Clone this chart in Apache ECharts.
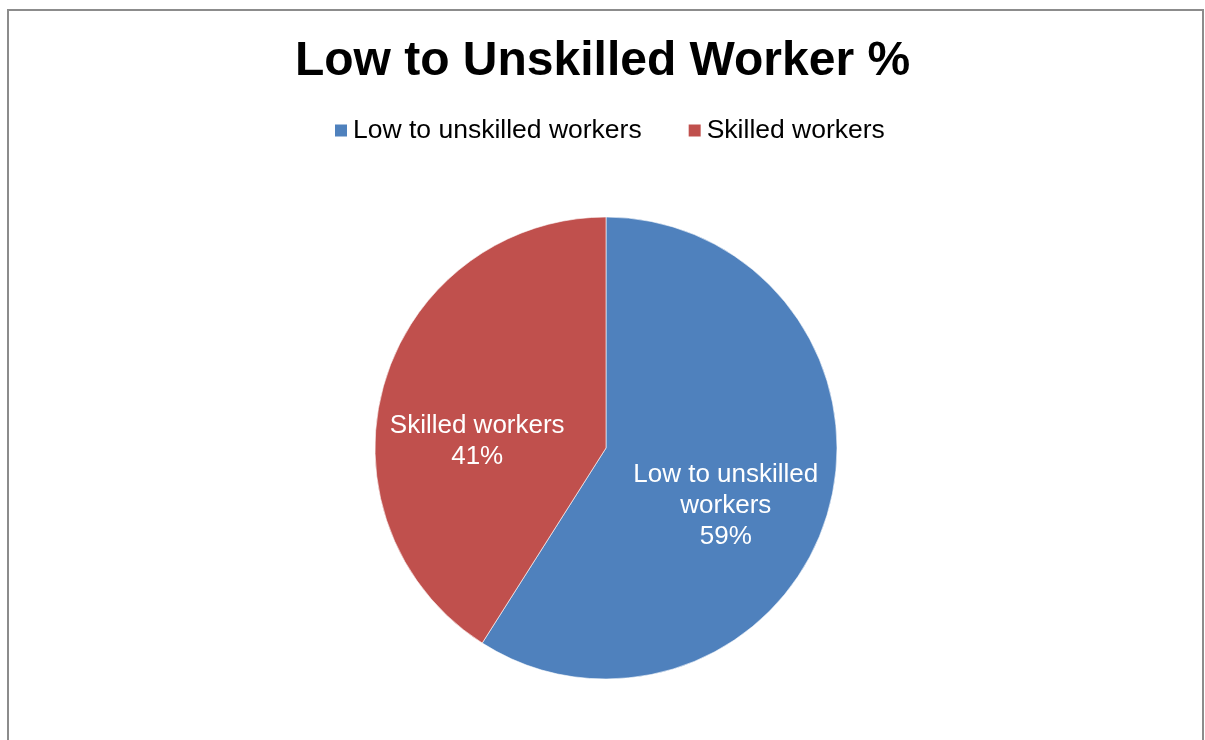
<!DOCTYPE html>
<html>
<head>
<meta charset="utf-8">
<script src="https://cdn.jsdelivr.net/npm/echarts@6/dist/echarts.min.js"></script>
<style>
  html, body { margin: 0; padding: 0; background: #fff; overflow: hidden; }
  #frame {
    position: absolute; left: 7px; top: 9px; width: 1193px; height: 760px;
    border: 2px solid #8c8c8c; border-bottom: none; background: #fff;
  }
  #chart { position: absolute; left: 0; top: 0; width: 1205px; height: 740px; }
</style>
</head>
<body>
<div id="frame"></div>
<div id="chart"></div>
<script>
const categories = ['Low to unskilled workers', 'Skilled workers'];
const shares = [59, 41];
const colors = ['#4F81BD', '#C0504D'];
const labelNames = ['Low to unskilled\nworkers', 'Skilled workers'];

const chart = echarts.init(document.getElementById('chart'), null, { renderer: 'canvas' });
const font = 'Liberation Sans, Arial, sans-serif';

chart.setOption({
  animation: false,
  title: {
    text: 'Low to Unskilled Worker %',
    left: 'center',
    top: 33,
    textStyle: { fontFamily: font, fontSize: 48, fontWeight: 'bold', color: '#000' }
  },
  legend: {
    data: categories,
    top: 112,
    left: 328,
    itemWidth: 14,
    itemHeight: 14,
    itemGap: 45,
    icon: 'rect',
    textStyle: { fontFamily: font, fontSize: 26.5, color: '#000' }
  },
  series: [{
    type: 'pie',
    center: [606, 448],
    radius: 231,
    startAngle: 90,
    clockwise: true,
    emphasis: { disabled: true },
    itemStyle: { borderColor: '#ffffff', borderWidth: 0.6 },
    label: {
      show: true,
      position: 'inside',
      color: '#fff',
      fontFamily: font,
      fontSize: 26,
      lineHeight: 31,
      align: 'center',
      formatter: p => labelNames[p.dataIndex] + '\n' + p.value + '%'
    },
    data: categories.map((name, i) => ({
      name,
      value: shares[i],
      itemStyle: { color: colors[i] },
      label: { offset: i === 0 ? [6, 25] : [-15, 26] }
    }))
  }]
});
</script>
</body>
</html>
